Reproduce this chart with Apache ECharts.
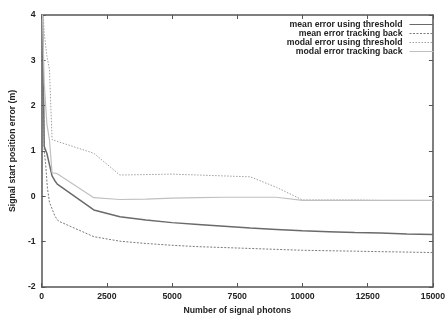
<!DOCTYPE html>
<html><head><meta charset="utf-8">
<script src="https://cdn.jsdelivr.net/npm/echarts@6/dist/echarts.min.js"></script>
<style>html,body{margin:0;padding:0;background:#fff}#c{width:448px;height:320px}</style>
</head><body><div id="c"></div>
<script>
const seriesNames = ['mean error using threshold','mean error tracking back','modal error using threshold','modal error tracking back'];
const xTicks = [0,2500,5000,7500,10000,12500,15000];
const yTicks = [-2,-1,0,1,2,3,4];

const xMeanThresh = [10,100,200,300,400,500,600,2000,3000,4000,5000,6000,7000,8000,9000,10000,11000,12000,13000,14000,15000];
const yMeanThresh = [5,1.1,0.95,0.7,0.45,0.35,0.27,-0.3,-0.45,-0.52,-0.58,-0.62,-0.66,-0.70,-0.73,-0.76,-0.78,-0.80,-0.81,-0.83,-0.84];

const xMeanTrack = [10,100,150,225,300,500,600,700,2000,3000,4000,5000,6000,7000,8000,9000,10000,11000,12000,13000,14000,15000];
const yMeanTrack = [5,1.0,0.73,0.17,-0.13,-0.42,-0.52,-0.56,-0.89,-0.99,-1.04,-1.08,-1.11,-1.13,-1.15,-1.17,-1.19,-1.20,-1.21,-1.22,-1.23,-1.24];

const xModalThresh = [10,100,200,300,400,2000,3000,4000,5000,6000,7000,8000,9000,10000,11000,12000,13000,14000,15000];
const yModalThresh = [4.5,3.6,3.1,2.8,1.25,0.95,0.47,0.48,0.49,0.47,0.45,0.43,0.2,-0.08,-0.08,-0.08,-0.09,-0.09,-0.09];

const xModalTrack = [10,100,200,300,400,600,2000,3000,4000,5000,6000,7000,8000,9000,10000,11000,12000,13000,14000,15000];
const yModalTrack = [4.5,2.5,1.6,1.25,0.52,0.5,-0.03,-0.07,-0.06,-0.04,-0.03,-0.02,-0.02,-0.02,-0.09,-0.09,-0.09,-0.09,-0.09,-0.09];

function pairs(xs, ys){ return xs.map((x,i)=>[x, ys[i]]); }

const txt = '#222';
const font = 'Liberation Sans, Arial, sans-serif';
const fs = 8.7;
const axisCol = '#555';

const chart = echarts.init(document.getElementById('c'), null, {renderer:'canvas'});
const baseX = {type:'value', min:0, max:15000, interval:2500, splitLine:{show:false},
  axisLine:{show:true, onZero:false, lineStyle:{color:axisCol, width:1.5}},
  axisTick:{show:true, inside:true, length:4, lineStyle:{color:axisCol}}};
const baseY = {type:'value', min:-2, max:4, interval:1, splitLine:{show:false},
  axisLine:{show:true, onZero:false, lineStyle:{color:axisCol, width:1.5}},
  axisTick:{show:true, inside:true, length:4, lineStyle:{color:axisCol}}};

chart.setOption({
  animation:false,
  backgroundColor:'#fff',
  grid:{left:40, right:8, top:15, bottom:27, containLabel:false},
  legend:{
    orient:'vertical', right:14, top:20, align:'right', padding:0,
    itemWidth:24, itemHeight:8, itemGap:0,
    itemStyle:{opacity:0},
    lineStyle:{width:1},
    textStyle:{color:txt, fontSize:fs, lineHeight:8.7, fontWeight:'bold', fontFamily:font, padding:[0,2,0,0]},
    data:seriesNames
  },
  xAxis:[
    Object.assign({}, baseX, {position:'bottom',
      name:'Number of signal photons', nameLocation:'middle', nameGap:19,
      nameTextStyle:{color:txt, fontSize:fs, fontWeight:'bold', fontFamily:font},
      axisLabel:{color:txt, fontSize:fs, fontWeight:'bold', fontFamily:font, margin:5,
        formatter:v=>xTicks.includes(v)?String(v):''}}),
    Object.assign({}, baseX, {position:'top', axisLabel:{show:false}})
  ],
  yAxis:[
    Object.assign({}, baseY, {position:'left',
      name:'Signal start position error (m)', nameLocation:'middle', nameGap:21, nameRotate:90,
      nameTextStyle:{color:txt, fontSize:fs, fontWeight:'bold', fontFamily:font},
      axisLabel:{color:txt, fontSize:fs, fontWeight:'bold', fontFamily:font, margin:6,
        formatter:v=>yTicks.includes(v)?String(v):''}}),
    Object.assign({}, baseY, {position:'right', axisLabel:{show:false}})
  ],
  series:[
    {name:seriesNames[0], type:'line', symbol:'none', clip:true, data:pairs(xMeanThresh,yMeanThresh),
      lineStyle:{color:'#6a6a6a', width:1.5, type:'solid'}, itemStyle:{color:'#6a6a6a'}},
    {name:seriesNames[1], type:'line', symbol:'none', clip:true, data:pairs(xMeanTrack,yMeanTrack),
      lineStyle:{color:'#7a7a7a', width:1, type:[2,1.5]}, itemStyle:{color:'#7a7a7a'}},
    {name:seriesNames[2], type:'line', symbol:'none', clip:true, data:pairs(xModalThresh,yModalThresh),
      lineStyle:{color:'#a0a0a0', width:1, type:[1.5,1.5]}, itemStyle:{color:'#a0a0a0'}},
    {name:seriesNames[3], type:'line', symbol:'none', clip:true, data:pairs(xModalTrack,yModalTrack),
      lineStyle:{color:'#c0c0c0', width:1.2, type:'solid'}, itemStyle:{color:'#c0c0c0'}}
  ]
});
</script></body></html>
